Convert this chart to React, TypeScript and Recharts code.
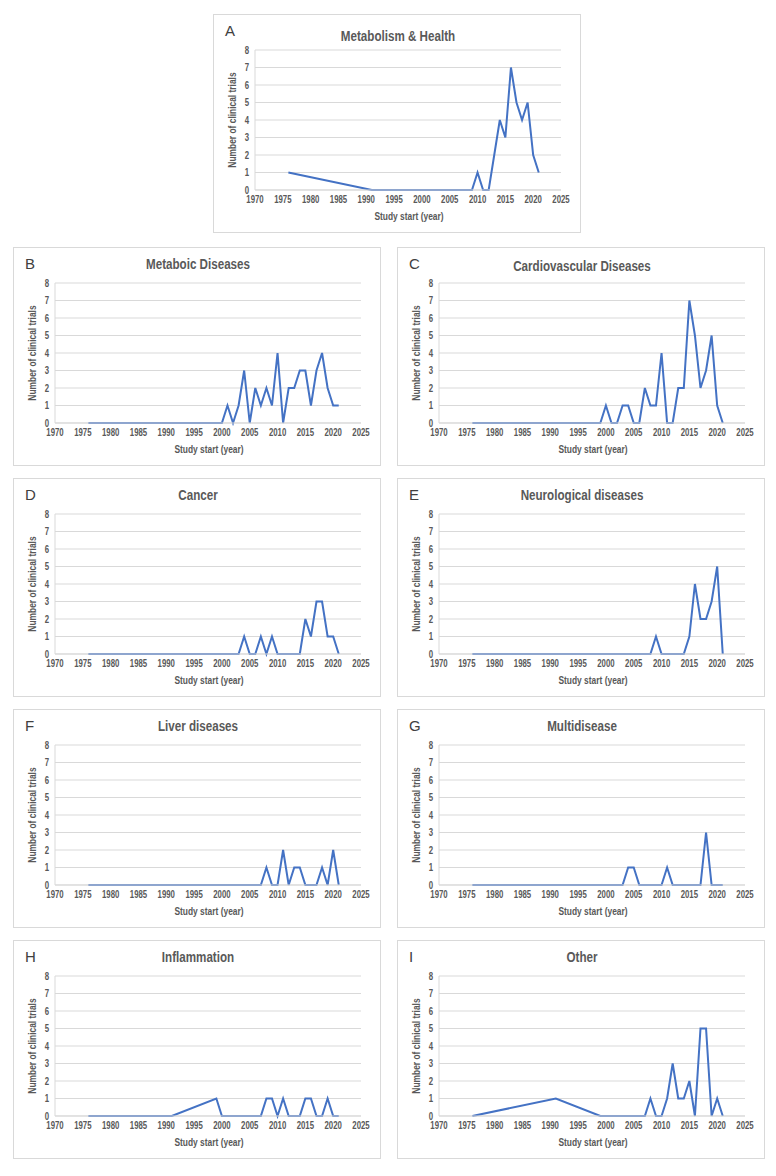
import React from "react";
import {
  LineChart,
  Line,
  XAxis,
  YAxis,
  CartesianGrid,
} from "recharts";

// study start years (x values shared by every panel)
const years = [
  1976, 1991, 1999, 2000, 2001, 2002, 2003, 2004, 2005, 2006, 2007, 2008,
  2009, 2010, 2011, 2012, 2013, 2014, 2015, 2016, 2017, 2018, 2019, 2020, 2021,
];

const metabolismHealth = [1, 0, 0, 0, 0, 0, 0, 0, 0, 0, 0, 0, 0, 1, 0, 0, 2, 4, 3, 7, 5, 4, 5, 2, 1];
const metabolicDiseases = [0, 0, 0, 0, 1, 0, 1, 3, 0, 2, 1, 2, 1, 4, 0, 2, 2, 3, 3, 1, 3, 4, 2, 1, 1];
const cardiovascular = [0, 0, 0, 1, 0, 0, 1, 1, 0, 0, 2, 1, 1, 4, 0, 0, 2, 2, 7, 5, 2, 3, 5, 1, 0];
const cancer = [0, 0, 0, 0, 0, 0, 0, 1, 0, 0, 1, 0, 1, 0, 0, 0, 0, 0, 2, 1, 3, 3, 1, 1, 0];
const neurological = [0, 0, 0, 0, 0, 0, 0, 0, 0, 0, 0, 0, 1, 0, 0, 0, 0, 0, 1, 4, 2, 2, 3, 5, 0];
const liver = [0, 0, 0, 0, 0, 0, 0, 0, 0, 0, 0, 1, 0, 0, 2, 0, 1, 1, 0, 0, 0, 1, 0, 2, 0];
const multidisease = [0, 0, 0, 0, 0, 0, 0, 1, 1, 0, 0, 0, 0, 0, 1, 0, 0, 0, 0, 0, 0, 3, 0, 0, 0];
const inflammation = [0, 0, 1, 0, 0, 0, 0, 0, 0, 0, 0, 1, 1, 0, 1, 0, 0, 0, 1, 1, 0, 0, 1, 0, 0];
const other = [0, 1, 0, 0, 0, 0, 0, 0, 0, 0, 0, 1, 0, 0, 1, 3, 1, 1, 2, 0, 5, 5, 0, 1, 0];

const xTicks = [1970, 1975, 1980, 1985, 1990, 1995, 2000, 2005, 2010, 2015, 2020, 2025];
const yTicks = [0, 1, 2, 3, 4, 5, 6, 7, 8];

const FONT = '"Liberation Sans", Arial, sans-serif';
const GRAY = "#595959";
const BLUE = "#4472C4";
const W = 368;
const H = 219;

// narrow-looking tick text (squeezed horizontally)
const XTick = (props: any) => {
  const { x, y, payload } = props;
  return (
    <text
      transform={`translate(${x},${y}) scale(0.78,1)`}
      textAnchor="middle"
      dy="0.75em"
      fontSize={10}
      fontWeight={700}
      fill={GRAY}
      fontFamily={FONT}
    >
      {payload.value}
    </text>
  );
};

const YTick = (props: any) => {
  const { x, y, payload } = props;
  return (
    <text
      transform={`translate(${x},${y}) scale(0.78,1)`}
      textAnchor="end"
      dy="0.36em"
      fontSize={10}
      fontWeight={700}
      fill={GRAY}
      fontFamily={FONT}
    >
      {payload.value}
    </text>
  );
};

interface PanelProps {
  letter: string;
  title: string;
  values: number[];
  left: number;
  top: number;
  titleTop?: number;
}

const Panel: React.FC<PanelProps> = ({ letter, title, values, left, top, titleTop = 8 }) => {
  const data = years.map((y, i) => ({ year: y, value: values[i] }));
  return (
    <div
      style={{
        position: "absolute",
        left,
        top,
        width: W,
        height: H,
        border: "1px solid #d9d9d9",
        boxSizing: "border-box",
        background: "#fff",
      }}
    >
      <div
        style={{
          position: "absolute",
          left: 11,
          top: 7,
          fontFamily: FONT,
          fontSize: 15,
          color: "#404040",
        }}
      >
        {letter}
      </div>
      <div
        style={{
          position: "absolute",
          left: 0,
          width: W,
          top: titleTop,
          textAlign: "center",
          fontFamily: FONT,
          fontWeight: 700,
          fontSize: 14,
          color: GRAY,
          transform: "scaleX(0.83)",
        }}
      >
        {title}
      </div>
      <div style={{ position: "absolute", left: -1, top: -1 }}>
        <LineChart
          width={W}
          height={H}
          data={data}
          margin={{ top: 36, right: 20, left: 0, bottom: 0 }}
        >
          <CartesianGrid vertical={false} stroke="#d9d9d9" />
          <XAxis
            dataKey="year"
            type="number"
            domain={[1970, 2025]}
            ticks={xTicks}
            height={43}
            tickLine={false}
            tickSize={3}
            tickMargin={2}
            axisLine={{ stroke: "#d9d9d9" }}
            tick={<XTick />}
            interval={0}
          />
          <YAxis
            type="number"
            domain={[0, 8]}
            ticks={yTicks}
            width={42}
            tickLine={false}
            tickSize={4}
            tickMargin={2}
            axisLine={{ stroke: "#d9d9d9" }}
            tick={<YTick />}
            interval={0}
          />
          <Line
            type="linear"
            dataKey="value"
            stroke={BLUE}
            strokeWidth={2}
            dot={false}
            isAnimationActive={false}
          />
        </LineChart>
      </div>
      <div
        style={{
          position: "absolute",
          left: 95,
          width: 200,
          top: 195,
          textAlign: "center",
          fontFamily: FONT,
          fontWeight: 700,
          fontSize: 10.5,
          color: GRAY,
          transform: "scaleX(0.8)",
        }}
      >
        Study start (year)
      </div>
      <div
        style={{
          position: "absolute",
          left: 18 - 100,
          width: 200,
          top: 105 - 7,
          height: 14,
          lineHeight: "14px",
          textAlign: "center",
          fontFamily: FONT,
          fontWeight: 700,
          fontSize: 10.5,
          color: GRAY,
          transform: "rotate(-90deg) scaleX(0.8)",
        }}
      >
        Number of clinical trials
      </div>
    </div>
  );
};

const App: React.FC = () => {
  return (
    <div
      style={{
        position: "absolute",
        left: 0,
        top: 0,
        width: 776,
        height: 1176,
        background: "#fff",
      }}
    >
      <Panel letter="A" title="Metabolism & Health" values={metabolismHealth} left={213} top={14} titleTop={13} />
      <Panel letter="B" title="Metaboic Diseases" values={metabolicDiseases} left={13} top={247} />
      <Panel letter="C" title="Cardiovascular Diseases" values={cardiovascular} left={397} top={247} titleTop={10} />
      <Panel letter="D" title="Cancer" values={cancer} left={13} top={478} />
      <Panel letter="E" title="Neurological diseases" values={neurological} left={397} top={478} />
      <Panel letter="F" title="Liver diseases" values={liver} left={13} top={709} />
      <Panel letter="G" title="Multidisease" values={multidisease} left={397} top={709} />
      <Panel letter="H" title="Inflammation" values={inflammation} left={13} top={940} />
      <Panel letter="I" title="Other" values={other} left={397} top={940} />
    </div>
  );
};

export default App;
